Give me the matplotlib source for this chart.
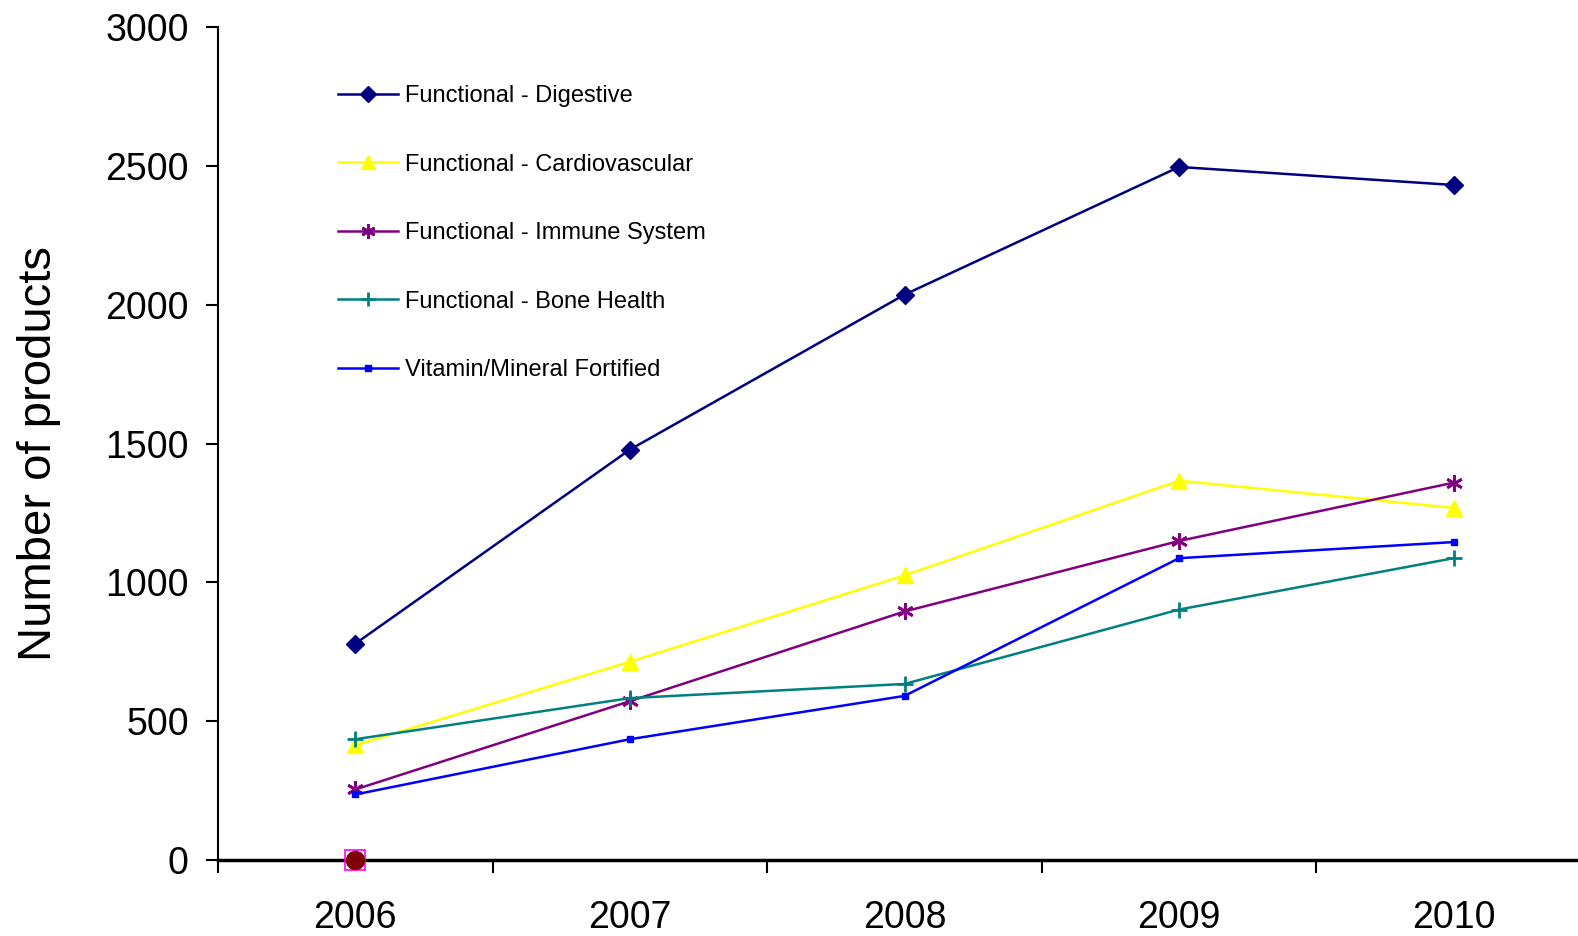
import matplotlib
matplotlib.use("Agg")
import matplotlib.pyplot as plt
import numpy as np

plt.rcParams['font.family'] = ['Liberation Sans', 'DejaVu Sans']

years = ['2006', '2007', '2008', '2009', '2010']
digestive = [779, 1478, 2036, 2496, 2431]
cardiovascular = [413, 714, 1025, 1366, 1268]
immune = [254, 572, 895, 1149, 1359]
bone = [435, 583, 634, 902, 1087]
vitamin = [236, 435, 591, 1087, 1145]
extra = [0]

series_labels = ['Functional - Digestive', 'Functional - Cardiovascular',
                 'Functional - Immune System', 'Functional - Bone Health',
                 'Vitamin/Mineral Fortified']

fig = plt.figure(figsize=(15.78, 9.36), dpi=100)
ax = fig.add_axes([218/1578, 76/936, (1591-218)/1578, (860-27)/936])

x = np.arange(len(years))
lw = 1.8
ax.plot(x, digestive, color='#000080', lw=lw, marker='D', ms=9, label=series_labels[0])
ax.plot(x, cardiovascular, color='#FFFF00', lw=lw, marker='^', ms=11.5, label=series_labels[1])
ax.plot(x, immune, color='#800080', lw=lw, marker=(6, 2, 0), ms=12, mew=2, label=series_labels[2])
ax.plot(x, bone, color='#008080', lw=lw, marker='+', ms=12, mew=2, label=series_labels[3])
ax.plot(x, vitamin, color='#0000FF', lw=lw, marker='s', ms=5, label=series_labels[4])

ex = x[:len(extra)]
ax.plot(ex, extra, ls='none', marker='s', ms=14, mfc='none', mec='#FF00FF', mew=1.2, clip_on=False, zorder=5)
ax.plot(ex, extra, ls='none', marker='o', ms=13, mfc='#800000', mec='#800000', clip_on=False, zorder=6)

ax.set_xlim(-0.5, len(years) - 0.5)
ax.set_ylim(0, 3000)
ax.set_yticks(np.arange(0, 3001, 500))
ax.set_xticks(x)
ax.set_xticklabels(years)
ax.set_xticks(np.arange(-0.5, len(years), 1.0), minor=True)
ax.tick_params(axis='x', which='major', length=0, pad=29, labelsize=27)
ax.tick_params(axis='x', which='minor', length=9, width=1.5, direction='out')
ax.tick_params(axis='y', which='major', length=9, width=1.5, direction='out', labelsize=27, pad=12)

ax.spines['top'].set_visible(False)
ax.spines['right'].set_visible(False)
ax.spines['left'].set_linewidth(1.5)
ax.spines['bottom'].set_linewidth(2.5)

ax.set_ylabel('Number of products', fontsize=34)
ax.yaxis.set_label_coords(-0.114, 0.488)

leg = ax.legend(loc='upper left', bbox_to_anchor=(338/1578, 1 - 85/936), bbox_transform=fig.transFigure,
                frameon=False, fontsize=17, handlelength=2.55, handletextpad=0.3,
                labelspacing=1.97, borderpad=0, borderaxespad=0, markerscale=0.85)

fig.savefig('out.png', dpi=100)
